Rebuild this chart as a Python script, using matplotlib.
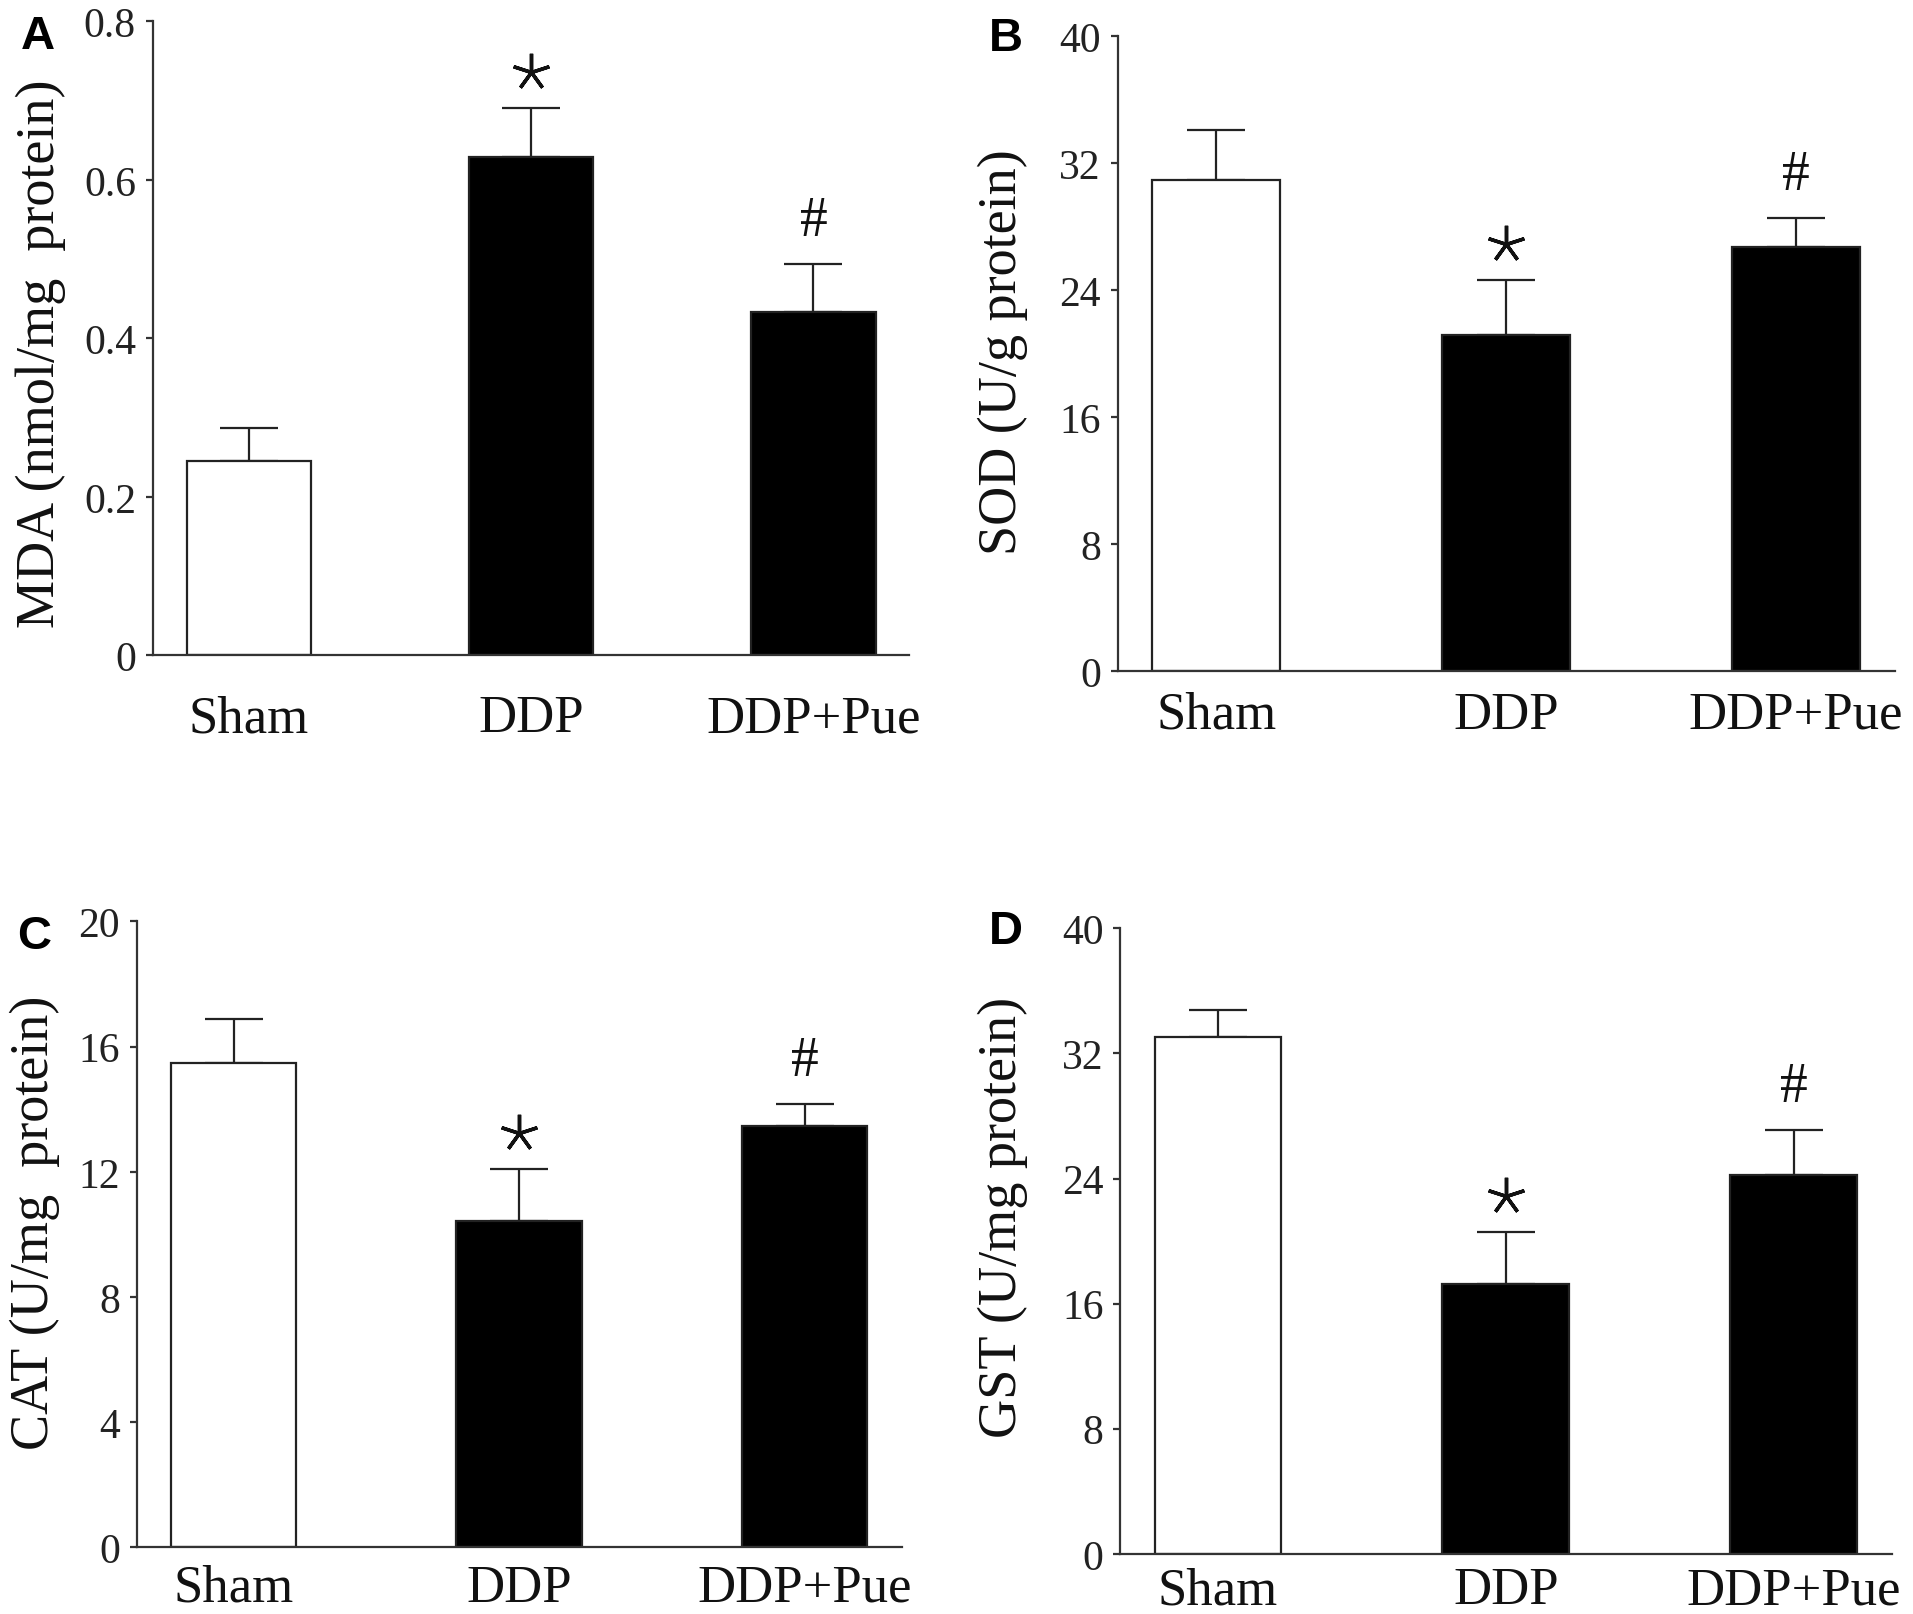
import numpy as np
import matplotlib
matplotlib.use("Agg")
import matplotlib.pyplot as plt
import matplotlib.transforms as mtransforms

plt.rcParams['font.family'] = ['Liberation Serif', 'DejaVu Serif']

groups = ['Sham', 'DDP', 'DDP+Pue']

mda = [0.245, 0.629, 0.433]
mda_err = [0.042, 0.062, 0.061]

sod = [30.96, 21.2, 26.74]
sod_err = [3.12, 3.46, 1.83]

cat = [15.48, 10.44, 13.45]
cat_err = [1.39, 1.65, 0.72]

gst = [33.07, 17.24, 24.24]
gst_err = [1.72, 3.32, 2.89]

panels = [
    # letter, values, errors, ylabel, ymax, yticks, ticklabels, axes rect, ylabel coords, letter pos, xlabel pad
    ('A', mda, mda_err, 'MDA (nmol/mg  protein)', 0.8, [0, 0.2, 0.4, 0.6, 0.8],
     ['0', '0.2', '0.4', '0.6', '0.8'], [0.0798, 0.5935, 0.3956, 0.3926], (-0.114, 0.477), (0.020, 0.977), 28),
    ('B', sod, sod_err, 'SOD (U/g protein)', 40, [0, 8, 16, 24, 32, 40],
     ['0', '8', '16', '24', '32', '40'], [0.5842, 0.5836, 0.4062, 0.3932], (-0.115, 0.504), (0.526, 0.976), 14),
    ('C', cat, cat_err, 'CAT (U/mg  protein)', 20, [0, 4, 8, 12, 16, 20],
     ['0', '4', '8', '12', '16', '20'], [0.0714, 0.0413, 0.3999, 0.3875], (-0.1, 0.52), (0.018, 0.42), 12),
    ('D', gst, gst_err, 'GST (U/mg protein)', 40, [0, 8, 16, 24, 32, 40],
     ['0', '8', '16', '24', '32', '40'], [0.5855, 0.0373, 0.4033, 0.3872], (-0.119, 0.539), (0.526, 0.423), 9),
]

marks = [None, '*', '#']

fig = plt.figure(figsize=(19.13, 16.15), dpi=100)

for letter, vals, errs, ylab, ymax, yt, ytl, rect, lab_xy, let_xy, xpad in panels:
    ax = fig.add_axes(rect)
    x = np.arange(len(groups))
    colors = ['white', 'black', 'black']
    ax.bar(x, vals, width=0.44, color=colors, edgecolor='#222222', linewidth=1.6, zorder=2)
    ax.errorbar(x, vals, yerr=[np.zeros(len(errs)), errs], fmt='none', ecolor='#222222',
                elinewidth=1.6, capsize=21, capthick=1.6, zorder=1)
    ax.set_xlim(-0.34, 2.34)
    ax.set_ylim(0, ymax)
    ax.set_yticks(yt)
    ax.set_yticklabels(ytl)
    ax.set_xticks(x)
    ax.set_xticklabels(groups)
    for s in ['top', 'right']:
        ax.spines[s].set_visible(False)
    for s in ['left', 'bottom']:
        ax.spines[s].set_linewidth(1.6)
        ax.spines[s].set_color('#333333')
    ax.tick_params(axis='y', direction='out', length=5, width=1.6, color='#333333',
                   labelsize=30, pad=7, labelcolor='#222222')
    ax.tick_params(axis='x', length=0, labelsize=38, pad=xpad, labelcolor='#111111')
    ax.set_ylabel(ylab, fontsize=39, color='#111111')
    ax.yaxis.set_label_coords(*lab_xy)

    for i, m in enumerate(marks):
        top = vals[i] + errs[i]
        if m == '*':
            tr = mtransforms.offset_copy(ax.transData, fig=fig, x=0, y=26, units='points')
            ax.plot([x[i]], [top], marker=(5, 2, 0), markersize=27, markeredgewidth=2.5,
                    color='#111111', transform=tr, clip_on=False)
        elif m == '#':
            ax.annotate('#', (x[i], top), xytext=(0, 12), textcoords='offset points',
                        ha='center', va='bottom', fontsize=40, color='#111111')

    fig.text(let_xy[0], let_xy[1], letter, fontsize=34, fontweight='bold',
             family='Liberation Sans', ha='center', va='center')

fig.savefig('out.png', dpi=100)
